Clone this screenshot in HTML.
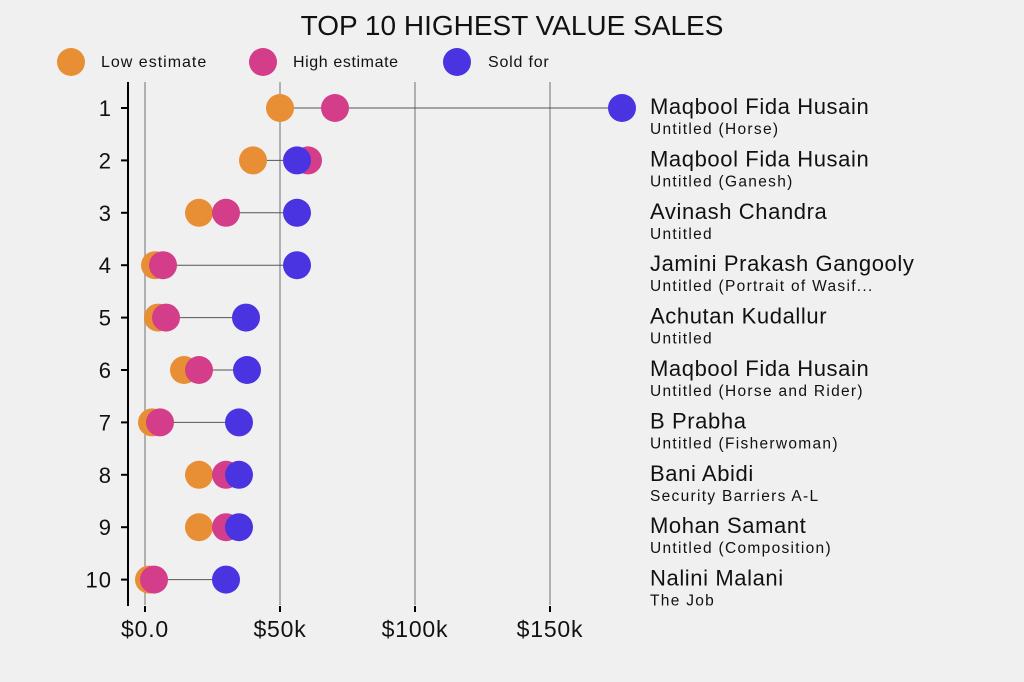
<!DOCTYPE html><html><head><meta charset="utf-8"><style>
body{margin:0;background:#f0f0f0}
svg{display:block;font-family:"Liberation Sans",sans-serif}
.n{font-size:22px;letter-spacing:0.6px}.s{font-size:15.5px;letter-spacing:1.3px}
</style></head><body>
<svg width="1024" height="682" xmlns="http://www.w3.org/2000/svg">
<rect width="1024" height="682" fill="#f0f0f0"/>
<text x="512" y="35" text-anchor="middle" font-size="28" fill="#111">TOP 10 HIGHEST VALUE SALES</text>
<circle cx="71" cy="62" r="14" fill="#E88F35"/><text x="101" y="67" font-size="16" letter-spacing="1" fill="#111">Low estimate</text>
<circle cx="263" cy="62" r="14" fill="#D33D8A"/><text x="293" y="67" font-size="16" letter-spacing="0.6" fill="#111">High estimate</text>
<circle cx="457" cy="62" r="14" fill="#4A33E0"/><text x="488" y="67" font-size="16" letter-spacing="0.8" fill="#111">Sold for</text>
<g stroke="#b0b0b0" stroke-width="2">
<line x1="145" y1="82" x2="145" y2="605"/><line x1="280" y1="82" x2="280" y2="605"/><line x1="415" y1="82" x2="415" y2="605"/><line x1="550" y1="82" x2="550" y2="605"/></g>
<g stroke="#000" stroke-width="2"><line x1="128" y1="82" x2="128" y2="606"/>
<line x1="145" y1="606" x2="145" y2="612"/><line x1="280" y1="606" x2="280" y2="612"/><line x1="415" y1="606" x2="415" y2="612"/><line x1="550" y1="606" x2="550" y2="612"/>
<line x1="121" y1="108" x2="128" y2="108"/><line x1="121" y1="160.4" x2="128" y2="160.4"/><line x1="121" y1="212.8" x2="128" y2="212.8"/><line x1="121" y1="265.2" x2="128" y2="265.2"/><line x1="121" y1="317.6" x2="128" y2="317.6"/><line x1="121" y1="370" x2="128" y2="370"/><line x1="121" y1="422.4" x2="128" y2="422.4"/><line x1="121" y1="474.8" x2="128" y2="474.8"/><line x1="121" y1="527.2" x2="128" y2="527.2"/><line x1="121" y1="579.6" x2="128" y2="579.6"/></g>
<g font-size="23" fill="#111" text-anchor="middle" letter-spacing="0.8"><text x="145" y="637">$0.0</text><text x="280" y="637">$50k</text><text x="415" y="637">$100k</text><text x="550" y="637">$150k</text></g>
<g font-size="22" fill="#111" text-anchor="end" letter-spacing="1">
<text x="112" y="116">1</text><text x="112" y="168.4">2</text><text x="112" y="220.8">3</text><text x="112" y="273.2">4</text><text x="112" y="325.6">5</text><text x="112" y="378">6</text><text x="112" y="430.4">7</text><text x="112" y="482.8">8</text><text x="112" y="535.2">9</text><text x="112" y="587.6">10</text></g>
<g stroke="#555" stroke-width="1">
<line x1="280" y1="108" x2="622" y2="108"/><line x1="253" y1="160.4" x2="308" y2="160.4"/><line x1="199" y1="212.8" x2="297" y2="212.8"/><line x1="155" y1="265.2" x2="297" y2="265.2"/><line x1="158" y1="317.6" x2="246" y2="317.6"/><line x1="184" y1="370" x2="247" y2="370"/><line x1="152" y1="422.4" x2="239" y2="422.4"/><line x1="199" y1="474.8" x2="239" y2="474.8"/><line x1="199" y1="527.2" x2="239" y2="527.2"/><line x1="149" y1="579.6" x2="226" y2="579.6"/></g>
<g fill="#E88F35">
<circle cx="280" cy="108" r="14"/><circle cx="253" cy="160.4" r="14"/><circle cx="199" cy="212.8" r="14"/><circle cx="155" cy="265.2" r="14"/><circle cx="158" cy="317.6" r="14"/><circle cx="184" cy="370" r="14"/><circle cx="152" cy="422.4" r="14"/><circle cx="199" cy="474.8" r="14"/><circle cx="199" cy="527.2" r="14"/><circle cx="149" cy="579.6" r="14"/></g>
<g fill="#D33D8A">
<circle cx="335" cy="108" r="14"/><circle cx="308" cy="160.4" r="14"/><circle cx="226" cy="212.8" r="14"/><circle cx="163" cy="265.2" r="14"/><circle cx="166" cy="317.6" r="14"/><circle cx="199" cy="370" r="14"/><circle cx="160" cy="422.4" r="14"/><circle cx="226" cy="474.8" r="14"/><circle cx="226" cy="527.2" r="14"/><circle cx="154" cy="579.6" r="14"/></g>
<g fill="#4A33E0">
<circle cx="622" cy="108" r="14"/><circle cx="297" cy="160.4" r="14"/><circle cx="297" cy="212.8" r="14"/><circle cx="297" cy="265.2" r="14"/><circle cx="246" cy="317.6" r="14"/><circle cx="247" cy="370" r="14"/><circle cx="239" cy="422.4" r="14"/><circle cx="239" cy="474.8" r="14"/><circle cx="239" cy="527.2" r="14"/><circle cx="226" cy="579.6" r="14"/></g>
<g fill="#111">
<text x="650" y="114" class="n">Maqbool Fida Husain</text><text x="650" y="134" class="s">Untitled (Horse)</text>
<text x="650" y="166.4" class="n">Maqbool Fida Husain</text><text x="650" y="186.4" class="s">Untitled (Ganesh)</text>
<text x="650" y="218.8" class="n">Avinash Chandra</text><text x="650" y="238.8" class="s">Untitled</text>
<text x="650" y="271.2" class="n">Jamini Prakash Gangooly</text><text x="650" y="291.2" class="s">Untitled (Portrait of Wasif...</text>
<text x="650" y="323.6" class="n">Achutan Kudallur</text><text x="650" y="343.6" class="s">Untitled</text>
<text x="650" y="376" class="n">Maqbool Fida Husain</text><text x="650" y="396" class="s">Untitled (Horse and Rider)</text>
<text x="650" y="428.4" class="n">B Prabha</text><text x="650" y="448.4" class="s">Untitled (Fisherwoman)</text>
<text x="650" y="480.8" class="n">Bani Abidi</text><text x="650" y="500.8" class="s">Security Barriers A-L</text>
<text x="650" y="533.2" class="n">Mohan Samant</text><text x="650" y="553.2" class="s">Untitled (Composition)</text>
<text x="650" y="585.6" class="n">Nalini Malani</text><text x="650" y="605.6" class="s">The Job</text>
</g>
</svg></body></html>
